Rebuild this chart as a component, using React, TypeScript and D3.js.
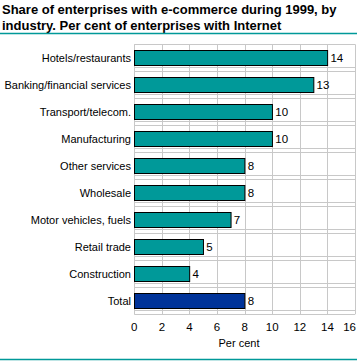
import React from "react";
import * as d3 from "d3";

const categories = [
  "Hotels/restaurants",
  "Banking/financial services",
  "Transport/telecom.",
  "Manufacturing",
  "Other services",
  "Wholesale",
  "Motor vehicles, fuels",
  "Retail trade",
  "Construction",
  "Total",
];
const values = [14, 13, 10, 10, 8, 8, 7, 5, 4, 8];
const xTicks = [0, 2, 4, 6, 8, 10, 12, 14, 16];
const titleLines = [
  "Share of enterprises with e-commerce during 1999, by",
  "industry. Per cent of enterprises with Internet",
];
const xAxisTitle = "Per cent";

const W = 357;
const H = 361;
const FONT = "'Liberation Sans', Arial, sans-serif";

export default function App() {
  const x = d3.scaleLinear().domain([0, 16]).range([134.3, 355]);
  const y = d3
    .scaleBand<string>()
    .domain(categories)
    .range([44.3, 314.3])
    .paddingInner(12 / 27)
    .paddingOuter(6 / 27);
  const step = y.step();
  const top = 44.3;
  const bottom = 314.3;
  const bw = y.bandwidth();
  const grid = "#c8c8c8";
  const teal = "#009999";
  const navy = "#003399";

  return (
    <svg
      width={W}
      height={H}
      style={{ position: "absolute", left: 0, top: 0, background: "#fff" }}
      fontFamily={FONT}
    >
      {titleLines.map((t, i) => (
        <text key={i} x={2} y={14 + i * 16} fontSize={13} fontWeight="bold" fill="#000">
          {t}
        </text>
      ))}
      <line x1={0} x2={W} y1={33.5} y2={33.5} stroke={teal} strokeWidth={1.5} />

      {/* vertical grid */}
      {xTicks.map((t) => (
        <line
          key={"vx" + t}
          x1={Math.round(x(t)) + 0.5}
          x2={Math.round(x(t)) + 0.5}
          y1={top}
          y2={bottom}
          stroke={grid}
          strokeWidth={1}
        />
      ))}
      {/* horizontal grid at band boundaries */}
      {d3.range(categories.length + 1).map((i) => {
        const yy = Math.round(top + i * step) + 0.5;
        return (
          <line key={"hb" + i} x1={x(0)} x2={x(16)} y1={yy} y2={yy} stroke={grid} strokeWidth={1} />
        );
      })}
      {categories.map((c) => {
        const yy = Math.round((y(c) as number) + bw + 2) + 0.5;
        return (
          <line key={"hx" + c} x1={x(0)} x2={x(16)} y1={yy} y2={yy} stroke={grid} strokeWidth={1} />
        );
      })}

      {/* bars */}
      {categories.map((c, i) => (
        <rect
          key={"b" + c}
          x={Math.round(x(0)) + 0.5}
          y={Math.round(y(c) as number) + 0.5}
          width={x(values[i]) - x(0)}
          height={bw}
          fill={c === "Total" ? navy : teal}
          stroke="#000"
          strokeWidth={1}
        />
      ))}

      {/* value labels */}
      {categories.map((c, i) => (
        <text
          key={"v" + c}
          x={x(values[i]) + 3}
          y={(y(c) as number) + bw / 2 + 4}
          fontSize={11.5}
          fill="#000"
        >
          {values[i]}
        </text>
      ))}

      {/* category labels */}
      {categories.map((c) => (
        <text
          key={"c" + c}
          x={131}
          y={(y(c) as number) + bw / 2 + 4}
          fontSize={11}
          textAnchor="end"
          fill="#000"
        >
          {c}
        </text>
      ))}

      {/* x tick labels */}
      {xTicks.map((t, i) => {
        const last = i === xTicks.length - 1;
        return (
          <text
            key={"t" + t}
            x={last ? W - 1 : x(t)}
            y={331}
            fontSize={11.5}
            textAnchor={last ? "end" : "middle"}
            fill="#000"
          >
            {t}
          </text>
        );
      })}
      <text x={239} y={347} fontSize={11} textAnchor="middle" fill="#000">
        {xAxisTitle}
      </text>

      <line x1={0} x2={W} y1={359.5} y2={359.5} stroke={teal} strokeWidth={1.5} />
    </svg>
  );
}
